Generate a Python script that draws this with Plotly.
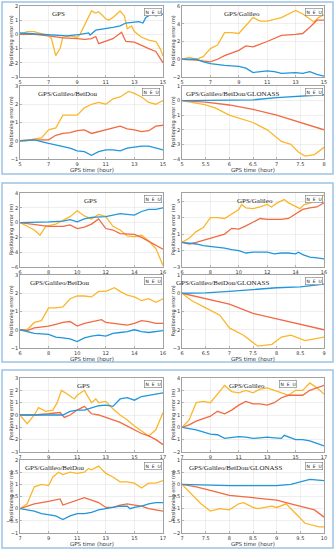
import plotly.graph_objects as go

W, H = 335, 550
BLUE, ORANGE, YELLOW = "#2196db", "#f26a42", "#fbb62b"

# ---------------- Panel 1 ----------------
p1a_title = "GPS"
p1a_tn = [5, 6, 7, 8.3, 9.2, 9.8, 9.9, 10.3, 11.5, 12, 12.4, 12.8, 13.3, 13.6, 13.8, 14.3, 14.5, 14.8, 15]
p1a_n = [0.1, 0.05, -0.05, -0.1, 0, 0.1, -0.05, 0.3, 0.5, 0.6, 0.8, 0.85, 0.9, 0.8, 1.2, 1.5, 1.3, 1.5, 1.4]
p1a_te = [5, 6, 7, 8, 9, 9.5, 10, 10.3, 10.5, 11, 11.5, 12.1, 12.4, 13, 13.5, 14, 14.5, 14.8, 15]
p1a_e = [0, 0, -0.1, -0.25, -0.3, -0.35, -0.3, -0.15, -0.65, -0.5, -0.3, 0.15, -0.5, -0.55, -0.8, -1.0, -1.2, -1.7, -2.0]
p1a_tu = [5, 5.5, 6, 7, 7.2, 7.5, 7.8, 8, 8.5, 9, 9.2, 9.6, 10, 10.3, 10.5, 11, 11.2, 11.5, 12, 12.3, 12.5, 12.8, 13, 13.5, 14, 14.5, 14.8, 15]
p1a_u = [0, 0.2, 0.2, -0.1, -0.3, -1.5, -1.0, -0.2, -0.1, -0.2, 0, 0.8, 1.65, 1.5, 1.6, 1.1, 1.0, 1.2, 1.65, 1.3, 0.4, 0.6, 0.2, -0.2, -0.4, -0.5, -1.0, -1.5]

p1b_title = "GPS/Galileo"
p1b_tn = [5, 6, 6.5, 7, 8, 9, 9.5, 10, 11, 11.5, 12, 13, 13.5, 14, 14.5, 15]
p1b_n = [0, 0, -0.3, -0.5, -0.7, -0.8, -1.0, -1.5, -1.3, -1.4, -1.6, -1.5, -1.6, -1.4, -1.7, -1.9]
p1b_te = [5, 6, 7, 7.5, 8, 9, 9.5, 10, 11, 12, 13, 13.5, 14, 14.5, 15]
p1b_e = [0, -0.1, -0.3, 0, 0.4, 1.0, 1.5, 1.4, 2.0, 2.7, 2.8, 2.9, 3.6, 4.4, 4.4]
p1b_tu = [5, 5.5, 6, 6.5, 7, 7.5, 8, 8.5, 9, 9.5, 10, 10.5, 11, 12, 12.5, 13, 13.5, 14, 14.3, 14.6, 15]
p1b_u = [0, 0.2, 0, 0.3, 1.2, 1.6, 3.0, 3.0, 2.9, 3.8, 4.7, 4.3, 4.3, 4.7, 5.1, 5.5, 5.1, 4.5, 4.2, 4.7, 5.0]

p1c_title = "GPS/Galileo/BeiDou"
p1c_tn = [5, 6, 7, 8, 8.5, 9, 9.5, 10, 10.5, 11, 11.5, 12, 12.5, 13, 13.5, 14, 14.5, 15]
p1c_n = [0, 0.05, -0.15, -0.3, -0.4, -0.55, -0.6, -0.8, -0.6, -0.5, -0.5, -0.55, -0.4, -0.35, -0.3, -0.3, -0.4, -0.5]
p1c_te = [5, 6, 7, 7.5, 8, 8.5, 9, 9.5, 10, 10.5, 11, 12, 12.5, 13, 13.5, 14, 14.5, 15]
p1c_e = [0, 0.05, 0.05, 0.3, 0.4, 0.45, 0.55, 0.6, 0.4, 0.5, 0.6, 0.8, 0.65, 0.6, 0.5, 0.55, 0.8, 0.85]
p1c_tu = [5, 5.5, 6, 6.5, 7, 7.5, 8, 8.5, 9, 9.5, 10, 10.5, 11, 11.5, 12, 12.6, 13, 13.5, 14, 14.5, 15]
p1c_u = [0, 0, 0.1, 0.15, 0.6, 0.7, 1.4, 1.4, 1.4, 1.8, 2.0, 2.1, 2.0, 2.3, 2.4, 2.7, 2.6, 2.4, 2.1, 2.0, 2.2]

p1d_title = "GPS/Galileo/BeiDou/GLONASS"
p1d_tn = [5, 5.5, 6, 6.5, 7, 7.5, 8]
p1d_n = [0, 0, 0, 0.05, 0.2, 0.3, 0.4]
p1d_te = [5, 5.5, 6, 6.5, 7, 7.5, 8]
p1d_e = [0, -0.1, -0.3, -0.6, -1.0, -1.5, -2.0]
p1d_tu = [5, 5.5, 5.7, 6, 6.5, 6.8, 7.1, 7.3, 7.45, 7.6, 7.8, 8]
p1d_u = [0, -0.3, -0.5, -1.0, -1.5, -2.0, -2.8, -3.0, -3.5, -3.8, -3.7, -3.2]

# ---------------- Panel 2 ----------------
p2a_title = "GPS"
p2a_tn = [6, 7, 8, 9, 9.5, 10, 10.5, 11, 12, 13, 13.5, 14, 14.5, 15, 15.5, 16]
p2a_n = [0, 0, 0.1, 0.2, 0.4, 0.1, 0.5, 0.7, 0.8, 1.2, 1.1, 1.0, 1.5, 1.8, 1.8, 2.0]
p2a_te = [6, 7, 8, 9, 9.5, 10, 10.5, 11, 11.5, 12, 12.5, 13, 14, 14.5, 15, 15.5, 16]
p2a_e = [0, -0.3, -0.5, -0.5, -0.3, -0.8, -0.6, -0.2, 0.5, -0.8, -1.0, -1.5, -1.6, -2.0, -2.5, -3.0, -3.6]
p2a_tu = [6, 6.5, 7, 7.4, 7.8, 8.5, 9, 9.5, 10, 10.5, 11, 11.5, 12, 12.5, 13, 13.5, 14, 14.5, 15, 15.5, 16]
p2a_u = [0, -0.5, -1.0, -1.7, -0.5, -0.2, 0.3, 0.8, 1.6, 0.9, 0.5, 1.1, 0.8, -0.5, -1.0, -1.8, -1.9, -1.7, -2.5, -3.5, -5.8]

p2b_title = "GPS/Galileo"
p2b_tn = [6, 7, 7.5, 8, 9, 9.5, 10, 10.5, 11, 12, 12.5, 13, 13.5, 14, 14.2, 14.5, 15, 15.5, 16]
p2b_n = [0, -0.2, -0.4, -0.5, -0.7, -0.9, -1.0, -1.3, -1.2, -1.2, -1.4, -1.3, -1.3, -1.4, -1.2, -1.5, -1.8, -1.9, -2.0]
p2b_te = [6, 6.5, 7, 8, 9, 9.5, 10, 10.5, 11, 11.5, 12, 13, 13.5, 14, 14.5, 15, 15.5, 16]
p2b_e = [0, -0.2, 0, 0.5, 1.0, 1.7, 1.6, 2.0, 2.5, 2.9, 2.8, 2.8, 2.9, 3.5, 4.0, 4.2, 4.3, 4.8]
p2b_tu = [6, 6.5, 7, 7.5, 8, 8.5, 9, 9.5, 10, 10.2, 10.5, 11, 11.5, 12, 12.3, 12.7, 13.2, 13.5, 14, 14.3, 14.6, 15, 15.5, 16]
p2b_u = [0, 0.5, 1.3, 1.8, 3.0, 3.0, 2.9, 3.5, 4.0, 4.6, 4.2, 4.1, 4.3, 4.6, 4.3, 4.8, 5.2, 4.8, 4.3, 4.1, 4.6, 4.8, 5.0, 5.8]

p2c_title = "GPS/Galileo/BeiDou"
p2c_tn = [6, 6.5, 7, 8, 8.5, 9, 9.5, 10, 10.5, 11, 11.5, 12, 12.5, 13, 13.5, 14, 14.5, 15, 15.5, 16]
p2c_n = [0, -0.1, -0.2, -0.25, -0.4, -0.45, -0.5, -0.65, -0.45, -0.35, -0.3, -0.35, -0.2, -0.15, -0.1, 0, -0.1, -0.15, -0.1, -0.05]
p2c_te = [6, 6.5, 7, 8, 8.5, 9, 9.5, 10, 10.5, 11, 11.7, 12, 12.5, 13, 13.5, 14, 14.5, 15, 15.5, 16]
p2c_e = [0, -0.05, 0.1, 0.2, 0.3, 0.4, 0.45, 0.2, 0.35, 0.45, 0.55, 0.4, 0.35, 0.3, 0.25, 0.35, 0.5, 0.45, 0.35, 0.35]
p2c_tu = [6, 6.5, 7, 7.5, 8, 8.5, 9, 9.5, 10, 10.5, 11, 11.5, 12, 12.6, 13, 13.5, 14, 14.5, 15, 15.5, 16]
p2c_u = [0, 0, 0.4, 0.5, 1.2, 1.2, 1.25, 1.7, 1.85, 1.85, 1.8, 2.1, 2.1, 2.3, 2.1, 1.9, 1.8, 1.6, 1.7, 1.5, 1.7]

p2d_title = "GPS/Galileo/BeiDou/GLONASS"
p2d_tn = [6, 6.5, 7, 7.5, 8, 8.5, 9]
p2d_n = [0, 0.02, 0.1, 0.2, 0.3, 0.35, 0.5]
p2d_te = [6, 6.5, 7, 7.5, 8, 8.5, 9]
p2d_e = [0, -0.3, -0.6, -1.1, -1.4, -1.7, -2.0]
p2d_tu = [6, 6.2, 6.5, 6.8, 7, 7.3, 7.6, 7.9, 8.1, 8.3, 8.6, 9]
p2d_u = [0, -0.4, -0.8, -1.2, -1.9, -2.3, -2.9, -2.8, -2.4, -2.3, -2.6, -2.4]

# ---------------- Panel 3 ----------------
p3a_title = "GPS"
p3a_tn = [7, 8, 9, 10, 10.5, 11, 11.5, 12, 12.5, 13, 13.5, 14, 14.5, 15, 15.5, 16, 16.5, 17]
p3a_n = [0, 0, 0, 0, 0.3, 0.4, 0.4, 0.6, 0.75, 0.8, 0.7, 1.3, 1.4, 1.2, 1.5, 1.6, 1.7, 1.8]
p3a_te = [7, 8, 9, 9.8, 10.1, 10.5, 11, 11.5, 12, 12.5, 13, 14, 14.5, 15, 15.5, 16, 16.5, 17]
p3a_e = [0, 0, 0.1, 0.2, -0.2, 0, 0.4, 0.7, 0.1, 0, -0.2, -0.6, -0.9, -1.2, -1.5, -1.7, -2.0, -2.4]
p3a_tu = [7, 7.5, 8, 8.3, 8.8, 9.3, 9.6, 9.9, 10.3, 10.8, 11, 11.5, 12, 12.3, 12.5, 13, 13.5, 14, 14.5, 15, 15.5, 16, 16.5, 17]
p3a_u = [0, -0.7, 0, 0.6, 0.3, 0.4, 1.0, 2.0, 1.7, 1.3, 1.6, 2.0, 1.0, 1.3, 1.0, 1.1, 0.5, 0, -0.4, -0.9, -1.3, -1.7, -1.2, 0.2]

p3b_title = "GPS/Galileo"
p3b_tn = [7, 7.5, 8, 9, 9.5, 10, 10.5, 11, 11.5, 12, 12.5, 13, 13.5, 14, 14.2, 14.5, 15, 15.5, 16, 16.5, 17]
p3b_n = [0, -0.1, -0.2, -0.55, -0.6, -0.9, -0.8, -0.75, -0.8, -0.9, -0.85, -0.8, -0.85, -0.9, -0.65, -0.8, -1.0, -1.0, -1.1, -1.3, -1.5]
p3b_te = [7, 7.5, 8, 9, 9.5, 10, 10.5, 11, 11.5, 12, 12.5, 13, 13.5, 14, 14.5, 15, 15.5, 16, 16.5, 17]
p3b_e = [0, 0.2, 0.5, 0.9, 1.3, 1.1, 1.4, 1.8, 2.1, 1.9, 1.9, 1.8, 2.0, 2.4, 2.6, 2.6, 2.6, 3.0, 3.2, 3.4]
p3b_tu = [7, 7.5, 8, 8.5, 9, 9.5, 10, 10.5, 11, 11.5, 12, 12.5, 13, 13.5, 14, 14.5, 15, 15.5, 16, 16.5, 17]
p3b_u = [0, 0.6, 2.0, 2.1, 2.0, 2.7, 3.4, 2.9, 2.8, 3.0, 2.8, 3.1, 3.2, 3.0, 2.8, 2.6, 3.0, 3.0, 3.6, 3.2, 2.7]

p3c_title = "GPS/Galileo/BeiDou"
p3c_tn = [7, 7.5, 8, 8.5, 9.5, 10, 10.5, 11, 11.5, 12, 12.5, 13, 13.5, 14, 14.5, 14.7, 15, 15.5, 16, 16.5, 17]
p3c_n = [0, -0.05, -0.1, -0.2, -0.3, -0.45, -0.3, -0.2, -0.2, -0.15, -0.05, 0, 0.05, 0.1, 0.1, 0, 0.05, 0.1, 0.2, 0.25, 0.25]
p3c_te = [7, 7.5, 8, 9, 9.8, 10, 10.5, 11, 11.5, 12, 12.5, 13, 13.5, 14, 14.5, 15, 15.5, 16, 16.5, 17]
p3c_e = [0, 0.1, 0.2, 0.3, 0.4, 0.15, 0.25, 0.35, 0.45, 0.35, 0.25, 0.05, 0.05, 0.15, 0.2, 0.15, 0.1, 0, -0.05, -0.1]
p3c_tu = [7, 7.5, 8, 8.5, 9, 9.3, 9.7, 10, 10.5, 11, 11.5, 11.8, 12, 12.5, 13, 13.5, 14, 14.5, 15, 15.5, 16, 16.5, 17]
p3c_u = [0, 0.2, 0.9, 1.0, 0.95, 1.3, 1.5, 1.4, 1.5, 1.45, 1.5, 1.65, 1.6, 1.75, 1.45, 1.3, 1.1, 1.1, 1.05, 0.85, 1.05, 1.05, 1.15]

p3d_title = "GPS/Galileo/BeiDou/GLONASS"
p3d_tn = [7, 7.5, 8, 8.5, 9, 9.3, 9.5, 9.7, 10]
p3d_n = [0, -0.03, -0.05, -0.05, -0.05, 0, 0.1, 0.2, 0.15]
p3d_te = [7, 7.3, 7.7, 8, 8.5, 9, 9.3, 9.6, 9.8, 10]
p3d_e = [0, -0.1, -0.3, -0.45, -0.55, -0.65, -0.8, -0.95, -1.05, -1.35]
p3d_tu = [7, 7.2, 7.4, 7.6, 7.8, 8, 8.2, 8.3, 8.5, 8.6, 8.9, 9, 9.2, 9.4, 9.6, 9.9, 10]
p3d_u = [0, -0.4, -0.8, -1.1, -1.0, -1.05, -0.8, -0.75, -0.95, -1.0, -0.9, -0.95, -0.8, -1.2, -1.6, -1.75, -1.75]

legend_labels = ["N", "E", "U"]
x_title = "GPS time (hour)"
y_title = "Positioning error (m)"

# (title, series, xrange, xtick step, yrange, ytick step, plot box px [x0,x1,y0,y1],
#  show x title, title centre px, legend right edge px)
subplots = [
    (p1a_title, (p1a_tn, p1a_n, p1a_te, p1a_e, p1a_tu, p1a_u), [5, 15], 2, [-3, 2], 1, [20, 163, 6, 77], False, 58, 162),
    (p1b_title, (p1b_tn, p1b_n, p1b_te, p1b_e, p1b_tu, p1b_u), [5, 15], 2, [-2, 6], 2, [182, 324, 6, 77], False, 242, 323),
    (p1c_title, (p1c_tn, p1c_n, p1c_te, p1c_e, p1c_tu, p1c_u), [5, 15], 2, [-1, 3], 1, [20, 163, 86, 159], True, 68, 160),
    (p1d_title, (p1d_tn, p1d_n, p1d_te, p1d_e, p1d_tu, p1d_u), [5, 8], 0.5, [-4, 1], 1, [182, 324, 86, 159], True, 232, 323),
    (p2a_title, (p2a_tn, p2a_n, p2a_te, p2a_e, p2a_tu, p2a_u), [6, 16], 2, [-6, 4], 2, [20, 163, 193, 267], False, 90, 162),
    (p2b_title, (p2b_tn, p2b_n, p2b_te, p2b_e, p2b_tu, p2b_u), [6, 16], 2, [-3, 6], 2, [182, 324, 193, 267], False, 255, 323),
    (p2c_title, (p2c_tn, p2c_n, p2c_te, p2c_e, p2c_tu, p2c_u), [6, 16], 2, [-1, 3], 1, [20, 163, 275, 348], True, 60, 162),
    (p2d_title, (p2d_tn, p2d_n, p2d_te, p2d_e, p2d_tu, p2d_u), [6, 9], 0.5, [-3, 1], 1, [182, 324, 275, 348], True, 222, 323),
    (p3a_title, (p3a_tn, p3a_n, p3a_te, p3a_e, p3a_tu, p3a_u), [7, 17], 2, [-3, 3], 1, [20, 163, 378, 452], False, 83, 162),
    (p3b_title, (p3b_tn, p3b_n, p3b_te, p3b_e, p3b_tu, p3b_u), [7, 17], 2, [-2, 4], 1, [182, 324, 378, 452], False, 247, 297),
    (p3c_title, (p3c_tn, p3c_n, p3c_te, p3c_e, p3c_tu, p3c_u), [7, 17], 2, [-1, 2], 0.5, [20, 163, 460, 533], True, 55, 162),
    (p3d_title, (p3d_tn, p3d_n, p3d_te, p3d_e, p3d_tu, p3d_u), [7, 10], 0.5, [-2, 1], 0.5, [182, 324, 460, 533], True, 235, 323),
]

fig = go.Figure()
shapes = []
annotations = []
layout_axes = {}


def px_x(p):
    return p / W


def px_y(p):
    return 1 - p / H


TXT = "#333333"
for i, (title, ser, xr, xd, yr, yd, box, show_xt, tcx, lgx) in enumerate(subplots, start=1):
    xa = "x" if i == 1 else f"x{i}"
    ya = "y" if i == 1 else f"y{i}"
    tn, n, te, e, tu, u = ser
    for xs, ys, c in ((tu, u, YELLOW), (te, e, ORANGE), (tn, n, BLUE)):
        fig.add_trace(go.Scatter(x=xs, y=ys, mode="lines", line=dict(color=c, width=1.3),
                                 xaxis=xa, yaxis=ya, showlegend=False, hoverinfo="skip"))
    x0, x1, y0, y1 = box
    axstyle = dict(showline=True, mirror=True, linecolor="#8a8a8a", linewidth=0.8,
                   showgrid=True, gridcolor="#e3e3e3", gridwidth=0.6, zeroline=False,
                   ticks="inside", ticklen=2, tickcolor="#8a8a8a", tickwidth=0.6,
                   ticklabelstandoff=0, automargin=False,
                   tickfont=dict(size=5, family="DejaVu Sans", color=TXT))
    xkey = "xaxis" if i == 1 else f"xaxis{i}"
    ykey = "yaxis" if i == 1 else f"yaxis{i}"
    layout_axes[xkey] = dict(axstyle, domain=[px_x(x0), px_x(x1)], range=xr, dtick=xd,
                             tick0=xr[0], anchor=ya)
    layout_axes[ykey] = dict(axstyle, domain=[px_y(y1), px_y(y0)], range=yr, dtick=yd,
                             tick0=yr[0], anchor=xa)
    # axis titles as annotations for exact placement
    if show_xt:
        annotations.append(dict(text=x_title, x=px_x((x0 + x1) / 2), y=px_y(y1 + 11),
                                xref="paper", yref="paper", xanchor="center", yanchor="middle",
                                showarrow=False, font=dict(size=5.5, family="DejaVu Sans", color=TXT)))
    annotations.append(dict(text=y_title, x=px_x(x0 - 9), y=px_y((y0 + y1) / 2), textangle=-90,
                            xref="paper", yref="paper", xanchor="center", yanchor="middle",
                            showarrow=False, font=dict(size=5, family="DejaVu Sans", color=TXT)))
    # subplot title (inside the plot)
    annotations.append(dict(text=title, x=px_x(tcx), y=px_y(y0 + 2),
                            xref="paper", yref="paper", xanchor="center", yanchor="top", showarrow=False,
                            font=dict(size=7, family="Liberation Serif", color="#222")))
    # N E U legend box
    annotations.append(dict(text="  ".join(legend_labels), x=px_x(lgx), y=px_y(y0 + 2),
                            xref="paper", yref="paper",
                            xanchor="right", yanchor="top", showarrow=False,
                            bordercolor="#777", borderwidth=0.6, borderpad=1, bgcolor="white",
                            font=dict(size=4.5, family="DejaVu Sans", color="#222")))

# panel frames
for (ya0, ya1) in ((2, 174), (183, 362), (370, 548)):
    shapes.append(dict(type="rect", xref="paper", yref="paper",
                       x0=px_x(2), x1=px_x(333), y0=px_y(ya1), y1=px_y(ya0),
                       line=dict(color="#9cc4e6", width=1.5), fillcolor="rgba(0,0,0,0)"))

fig.update_layout(width=W, height=H, margin=dict(l=0, r=0, t=0, b=0),
                  paper_bgcolor="white", plot_bgcolor="white", hovermode=False,
                  shapes=shapes, annotations=annotations, **layout_axes)
fig.write_html("out.html", config={"displayModeBar": False, "staticPlot": True},
               post_script="document.body.style.margin='0';document.body.style.padding='0';")
